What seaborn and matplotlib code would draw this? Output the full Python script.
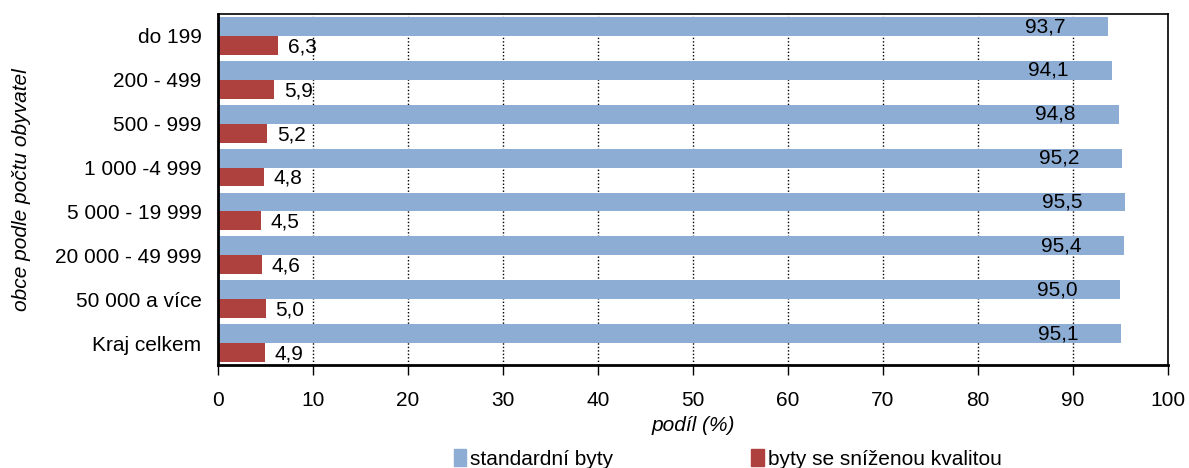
import pandas as pd
import matplotlib.pyplot as plt
import seaborn as sns

# hodnoty
kategorie = ["do 199", "200 - 499", "500 - 999", "1 000 -4 999", "5 000 - 19 999",
             "20 000 - 49 999", "50 000 a více", "Kraj celkem"]
standardni = [93.7, 94.1, 94.8, 95.2, 95.5, 95.4, 95.0, 95.1]
snizena = [6.3, 5.9, 5.2, 4.8, 4.5, 4.6, 5.0, 4.9]
serie = ["standardní byty", "byty se sníženou kvalitou"]
barvy = ["#8DADD4", "#AE403D"]

df = pd.DataFrame({
    "obec": kategorie * 2,
    "podil": standardni + snizena,
    "typ": [serie[0]] * len(kategorie) + [serie[1]] * len(kategorie),
})

sns.set_theme(style="white")
plt.rcParams['font.family'] = ['Liberation Sans', 'DejaVu Sans']
plt.rcParams['text.color'] = 'black'
plt.rcParams['axes.labelcolor'] = 'black'
plt.rcParams['xtick.color'] = 'black'
plt.rcParams['ytick.color'] = 'black'

FS = 15

fig = plt.figure(figsize=(11.89, 4.68), dpi=100)
ax = fig.add_axes([0.1834, 0.220, 0.7989, 0.750])

sns.barplot(data=df, x="podil", y="obec", hue="typ", hue_order=serie,
            palette=barvy, orient="h", width=0.86, ax=ax, legend=False,
            saturation=1, linewidth=0)

ax.set_xlim(0, 100)
ax.set_xticks(range(0, 101, 10))
ax.xaxis.grid(True, color="black", linestyle=(0, (1, 1.5)), linewidth=1)
ax.set_axisbelow(True)
ax.tick_params(axis="x", direction="out", length=7, width=1, pad=12,
               labelsize=FS, bottom=True)
ax.tick_params(axis="y", length=0, labelsize=FS, pad=12)
for s in ax.spines.values():
    s.set_color("black")
    s.set_linewidth(1.2)
ax.spines["left"].set_linewidth(2)
ax.spines["bottom"].set_linewidth(2)

ax.set_xlabel("podíl (%)", fontsize=FS, style="italic", labelpad=4)
ax.set_ylabel("obce podle počtu obyvatel", fontsize=FS, style="italic")
ax.yaxis.set_label_coords(-0.197, 0.5)

# popisky hodnot
for c_i, cont in enumerate(ax.containers):
    for bar, val in zip(cont, standardni if c_i == 0 else snizena):
        yc = bar.get_y() + bar.get_height() / 2
        txt = f"{val:.1f}".replace(".", ",")
        if c_i == 0:
            ax.annotate(txt, (val, yc), xytext=(-31, 0), textcoords="offset points",
                        ha="right", va="center", fontsize=FS)
        else:
            ax.annotate(txt, (val, yc), xytext=(7, -1), textcoords="offset points",
                        ha="left", va="center", fontsize=FS)

handles = [plt.Rectangle((0, 0), 1, 1, color=b) for b in barvy]
fig.legend(handles, serie, loc="center", bbox_to_anchor=(0.612, 0.02), ncol=2,
           frameon=False, fontsize=FS, handlelength=0.6, handleheight=0.9,
           handletextpad=0.2, columnspacing=6.6)

fig.savefig("out.png", dpi=100)
